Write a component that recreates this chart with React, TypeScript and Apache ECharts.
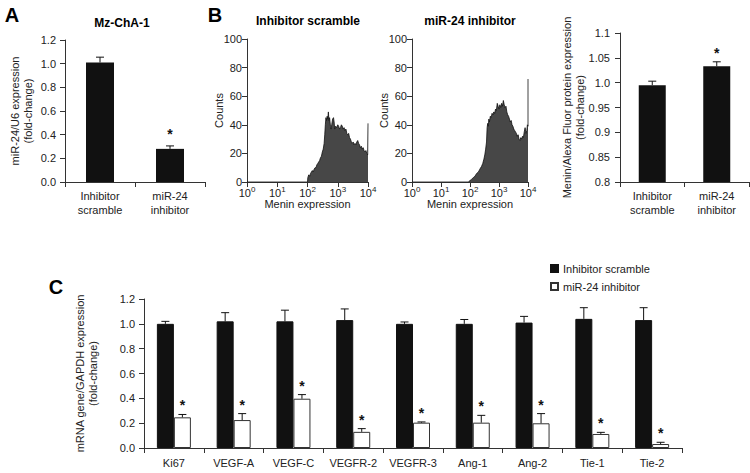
import React, { useEffect, useRef } from "react";
import * as echarts from "echarts";

const FONT = '"Liberation Sans", Arial, sans-serif';

// Panel A
const aCategories = ["Inhibitor\nscramble", "miR-24\ninhibitor"];
const aValues = [1.01, 0.28];
const aErrors = [1.055, 0.305];
const aStars = [false, true];

// Panel B histograms (x = log10 of Menin expression, y = counts)
const histTicks = [0, 1, 2, 3, 4];
const scrambleExp = [0, 2.0, 2.01, 2.04, 2.07, 2.1, 2.13, 2.16, 2.19, 2.22, 2.25, 2.28, 2.31, 2.34, 2.37, 2.4, 2.43, 2.46, 2.49, 2.52, 2.55, 2.57, 2.59, 2.61, 2.63, 2.65, 2.67, 2.69, 2.71, 2.73, 2.76, 2.78, 2.8, 2.83, 2.86, 2.88, 2.9, 2.93, 2.96, 3.0, 3.03, 3.06, 3.09, 3.12, 3.15, 3.18, 3.21, 3.24, 3.27, 3.3, 3.33, 3.36, 3.39, 3.42, 3.45, 3.48, 3.51, 3.54, 3.57, 3.6, 3.63, 3.66, 3.69, 3.72, 3.75, 3.78, 3.81, 3.84, 3.87, 3.9, 3.93, 3.96, 3.99, 4.0, 4.0];
const scrambleCounts = [0, 0, 3, 5, 4, 6, 7, 8, 7, 9, 10, 10, 12, 13, 14, 15, 17, 18, 21, 23, 27, 33, 40, 45, 43, 46, 44, 49, 43, 45, 39, 37, 40, 44, 45, 42, 37, 39, 38, 40, 39, 37, 38, 40, 39, 37, 38, 36, 37, 34, 33, 34, 31, 30, 28, 27, 28, 26, 27, 26, 28, 29, 27, 26, 24, 25, 23, 24, 22, 21, 22, 20, 19, 19, 41];
const inhibitorExp = [0, 1.94, 2.0, 2.06, 2.11, 2.17, 2.23, 2.29, 2.34, 2.4, 2.44, 2.48, 2.51, 2.54, 2.57, 2.59, 2.61, 2.63, 2.65, 2.67, 2.7, 2.73, 2.76, 2.79, 2.82, 2.85, 2.88, 2.91, 2.94, 2.97, 3.0, 3.03, 3.06, 3.09, 3.12, 3.15, 3.18, 3.21, 3.24, 3.27, 3.3, 3.33, 3.36, 3.39, 3.42, 3.45, 3.48, 3.51, 3.54, 3.57, 3.6, 3.63, 3.66, 3.69, 3.72, 3.75, 3.78, 3.81, 3.84, 3.87, 3.9, 3.93, 3.96, 3.98, 4.0, 4.0];
const inhibitorCounts = [0, 0, 1, 2, 3, 4, 6, 7, 9, 11, 13, 16, 19, 23, 28, 38, 41, 39, 44, 42, 46, 45, 48, 47, 49, 48, 51, 50, 55, 53, 51, 54, 52, 55, 53, 57, 54, 52, 53, 49, 47, 46, 44, 42, 43, 40, 39, 37, 36, 35, 34, 32, 33, 30, 29, 31, 30, 32, 31, 35, 38, 34, 36, 40, 39, 72];

// Panel B bar chart
const bCategories = ["Inhibitor\nscramble", "miR-24\ninhibitor"];
const bValues = [0.995, 1.033];
const bErrors = [1.003, 1.042];
const bStars = [false, true];

// Panel C
const cCategories = ["Ki67", "VEGF-A", "VEGF-C", "VEGFR-2", "VEGFR-3", "Ang-1", "Ang-2", "Tie-1", "Tie-2"];
const cScramble = [1.0, 1.02, 1.02, 1.03, 1.0, 1.0, 1.01, 1.04, 1.03];
const cScrambleErr = [1.02, 1.09, 1.11, 1.12, 1.015, 1.035, 1.06, 1.13, 1.13];
const cInhibitor = [0.247, 0.225, 0.397, 0.13, 0.204, 0.204, 0.199, 0.113, 0.032];
const cInhibitorErr = [0.27, 0.277, 0.43, 0.156, 0.21, 0.263, 0.277, 0.126, 0.046];
const cStars = [true, true, true, true, true, true, true, true, true];
const cNoStars = cStars.map(() => false);

const AXIS_COLOR = "#333";
const LABEL_COLOR = "#222";

function errorSeries(xi: number, yi: number, tops: number[], errs: number[], stars: boolean[], offset: number, starGap: number) {
  return {
    type: "custom",
    xAxisIndex: xi,
    yAxisIndex: yi,
    silent: true,
    z: 10,
    clip: false,
    data: tops.map((t, i) => [i, t, errs[i], stars[i] ? 1 : 0]),
    encode: { x: 0, y: 2 },
    renderItem: (_params: any, api: any) => {
      const i = api.value(0);
      const base = api.coord([i, api.value(1)]);
      const top = api.coord([i, api.value(2)]);
      const x = base[0] + offset;
      const children: any[] = [
        { type: "line", shape: { x1: x, y1: base[1], x2: x, y2: top[1] }, style: { stroke: "#111", lineWidth: 1 } },
        { type: "line", shape: { x1: x - 4, y1: top[1], x2: x + 4, y2: top[1] }, style: { stroke: "#111", lineWidth: 1 } },
      ];
      if (api.value(3)) {
        children.push({
          type: "text",
          x,
          y: top[1] - starGap,
          style: { text: "*", font: `bold 14px ${FONT}`, fill: "#111", align: "center", verticalAlign: "middle" },
        });
      }
      return { type: "group", children };
    },
  };
}

const labelBase = { color: LABEL_COLOR, fontSize: 11, fontFamily: FONT };
const axisLine = { show: true, lineStyle: { color: AXIS_COLOR, width: 1 } };
const axisTick = { show: true, length: 5, lineStyle: { color: AXIS_COLOR } };

function catAxis(gridIndex: number, data: string[], margin: number) {
  return {
    type: "category",
    gridIndex,
    data,
    axisLine,
    axisTick: { ...axisTick, interval: 0 },
    axisLabel: { ...labelBase, interval: 0, lineHeight: 14, margin },
    splitLine: { show: false },
  };
}

function valAxis(gridIndex: number, min: number, max: number, interval: number, formatter: any, name: string, nameGap: number, margin: number) {
  return {
    type: "value",
    gridIndex,
    min,
    max,
    interval,
    axisLine,
    axisTick,
    splitLine: { show: false },
    axisLabel: { ...labelBase, margin, formatter },
    name,
    nameLocation: "middle",
    nameRotate: 90,
    nameGap,
    nameMoveOverlap: false,
    nameTextStyle: { ...labelBase, lineHeight: 13 },
  };
}

function histXAxis(gridIndex: number) {
  return {
    type: "value",
    gridIndex,
    min: histTicks[0],
    max: histTicks[histTicks.length - 1],
    interval: 1,
    axisLine,
    axisTick,
    splitLine: { show: false },
    axisLabel: {
      margin: 3,
      formatter: (v: number) => `{b|10}{s|${v}}`,
      rich: {
        b: { ...labelBase, lineHeight: 13, verticalAlign: "bottom" },
        s: { ...labelBase, fontSize: 8, lineHeight: 8, verticalAlign: "top" },
      },
    },
    name: "Menin expression",
    nameLocation: "middle",
    nameGap: 16,
    nameMoveOverlap: false,
    nameTextStyle: { ...labelBase },
  };
}

function histSeries(idx: number, xs: number[], ys: number[]) {
  return {
    type: "line",
    xAxisIndex: idx,
    yAxisIndex: idx,
    data: xs.map((x, i) => [x, ys[i]]),
    symbol: "none",
    lineStyle: { color: "#111", width: 0.8 },
    areaStyle: { color: "#474747", opacity: 1 },
  };
}

function text(x: number, y: number, t: string, font: string) {
  return {
    type: "text",
    x,
    y,
    style: { text: t, font, fill: "#000", align: "center", verticalAlign: "middle" },
  };
}

export default function App() {
  const ref = useRef<HTMLDivElement>(null);
  useEffect(() => {
    if (!ref.current) return;
    const chart = echarts.init(ref.current, undefined, { renderer: "svg" });
    const fmt1 = (v: number) => v.toFixed(1);
    const fmtB = (v: number) => {
      const r = Math.round(v * 100) / 100;
      return r === 1 ? "1.0" : String(r);
    };
    const option: any = {
      animation: false,
      backgroundColor: "#fff",
      textStyle: { fontFamily: FONT },
      grid: [
        { left: 65, top: 40, width: 140, height: 142 },
        { left: 247, top: 39, width: 121, height: 143 },
        { left: 412, top: 39, width: 116, height: 143 },
        { left: 620, top: 33, width: 129, height: 149 },
        { left: 144, top: 299, width: 538, height: 149 },
      ],
      xAxis: [
        catAxis(0, aCategories, 7),
        histXAxis(1),
        histXAxis(2),
        catAxis(3, bCategories, 7),
        catAxis(4, cCategories, 8),
      ],
      yAxis: [
        valAxis(0, 0, 1.2, 0.2, fmt1, "miR-24/U6 expression\n(fold-change)", 31, 9),
        valAxis(1, 0, 100, 20, null, "Counts", 22, 5),
        valAxis(2, 0, 100, 20, null, "Counts", 22, 5),
        valAxis(3, 0.8, 1.1, 0.05, fmtB, "Menin/Alexa Fluor protein expression\n(fold-change)", 34, 10),
        valAxis(4, 0, 1.2, 0.2, fmt1, "mRNA gene/GAPDH expression\n(fold-change)", 45, 9),
      ],
      legend: {
        data: ["Inhibitor scramble", "miR-24 inhibitor"],
        orient: "vertical",
        left: 545,
        top: 258,
        itemWidth: 7,
        itemHeight: 7,
        itemGap: 7,
        icon: "rect",
        selectedMode: false,
        textStyle: { ...labelBase },
      },
      graphic: [
        text(12, 15, "A", `bold 20px ${FONT}`),
        text(215, 15, "B", `bold 20px ${FONT}`),
        text(56, 287, "C", `bold 20px ${FONT}`),
        text(122, 23, "Mz-ChA-1", `bold 12px ${FONT}`),
        text(308, 21, "Inhibitor scramble", `bold 12px ${FONT}`),
        text(470, 21, "miR-24 inhibitor", `bold 12px ${FONT}`),
      ],
      series: [
        { type: "bar", xAxisIndex: 0, yAxisIndex: 0, data: aValues, barWidth: 28, itemStyle: { color: "#111" } },
        errorSeries(0, 0, aValues, aErrors, aStars, 0, 12),
        histSeries(1, scrambleExp, scrambleCounts),
        histSeries(2, inhibitorExp, inhibitorCounts),
        { type: "bar", xAxisIndex: 3, yAxisIndex: 3, data: bValues, barWidth: 27, itemStyle: { color: "#111" } },
        errorSeries(3, 3, bValues, bErrors, bStars, 0, 9),
        {
          name: "Inhibitor scramble",
          type: "bar",
          xAxisIndex: 4,
          yAxisIndex: 4,
          data: cScramble,
          barWidth: 17,
          barGap: "0%",
          itemStyle: { color: "#111", borderColor: "#111", borderWidth: 1 },
        },
        {
          name: "miR-24 inhibitor",
          type: "bar",
          xAxisIndex: 4,
          yAxisIndex: 4,
          data: cInhibitor,
          barWidth: 17,
          barGap: "0%",
          itemStyle: { color: "#fff", borderColor: "#333", borderWidth: 1 },
        },
        errorSeries(4, 4, cScramble, cScrambleErr, cNoStars, -8.5, 9),
        errorSeries(4, 4, cInhibitor, cInhibitorErr, cStars, 8.5, 9),
      ],
    };
    chart.setOption(option);
    return () => chart.dispose();
  }, []);
  return (
    <div
      ref={ref}
      style={{ position: "fixed", left: 0, top: 0, width: 750, height: 473, background: "#fff" }}
    />
  );
}
